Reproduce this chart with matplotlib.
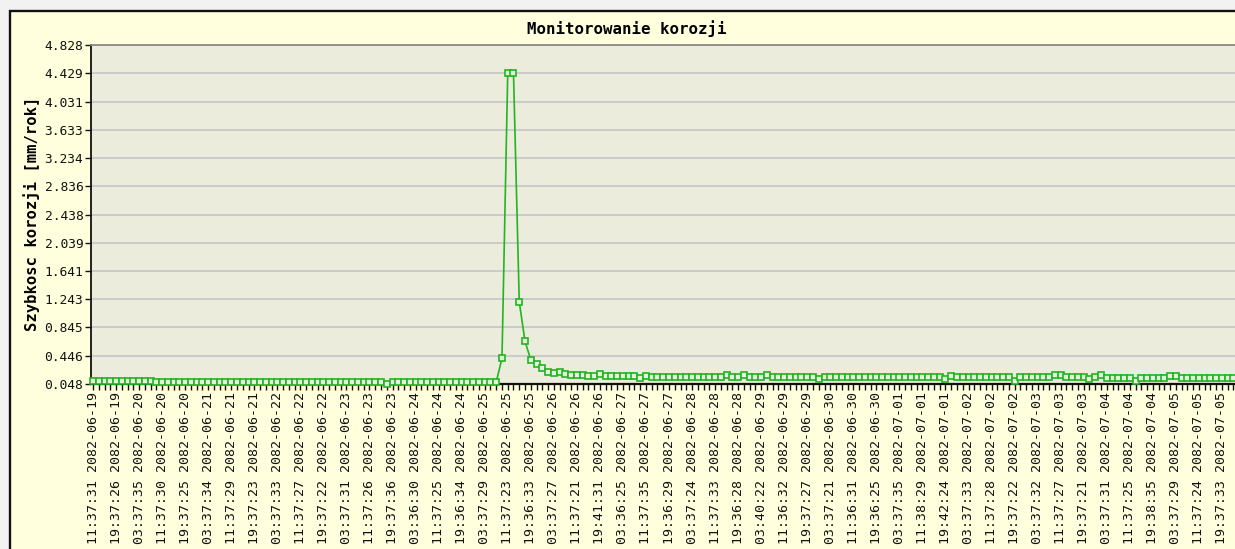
import numpy as np
import matplotlib
matplotlib.use('Agg')
import matplotlib.pyplot as plt
from matplotlib.patches import Rectangle

#---------------DATA----------------------------------------------------------------------

# corrosion rate [mm/rok], one reading every ~2 hours
rate = [0.095]*11 + [0.076]*40 + [0.048] + [0.076]*19 + \
       [0.41, 4.429, 4.429, 1.205, 0.65, 0.39, 0.33, 0.27, 0.22, 0.20,
        0.22, 0.19, 0.175, 0.175, 0.175, 0.16, 0.16, 0.19, 0.16] + \
       [0.16]*5 + [0.135, 0.165] + [0.145]*13 + [0.175] + [0.145]*2 + [0.175] + \
       [0.145]*3 + [0.175] + [0.145]*8 + [0.12] + [0.145]*21 + [0.12, 0.165] + \
       [0.145]*10 + [0.095] + [0.14]*6 + [0.18, 0.18] + [0.14]*4 + \
       [0.115, 0.15, 0.18] + [0.13]*5 + [0.095] + [0.13]*5 + [0.16, 0.16] + [0.13]*11

# labels every 4th reading
lab_dates = ['2082-06-19']*2 + \
            ['2082-06-20']*3 + ['2082-06-21']*3 + ['2082-06-22']*3 + ['2082-06-23']*3 + \
            ['2082-06-24']*3 + ['2082-06-25']*3 + ['2082-06-26']*3 + ['2082-06-27']*3 + \
            ['2082-06-28']*3 + ['2082-06-29']*3 + ['2082-06-30']*3 + ['2082-07-01']*3 + \
            ['2082-07-02']*3 + ['2082-07-03']*3 + ['2082-07-04']*3 + ['2082-07-05']*3
lab_times = ['11:37:31','19:37:26','03:37:35','11:37:30','19:37:25','03:37:34','11:37:29',
             '19:37:23','03:37:33','11:37:27','19:37:22','03:37:31','11:37:26','19:37:36',
             '03:36:30','11:37:25','19:36:34','03:37:29','11:37:23','19:36:33','03:37:27',
             '11:37:21','19:41:31','03:36:25','11:37:35','19:36:29','03:37:24','11:37:33',
             '19:36:28','03:40:22','11:36:32','19:37:27','03:37:21','11:36:31','19:36:25',
             '03:37:35','11:38:29','19:42:24','03:37:33','11:37:28','19:37:22','03:37:32',
             '11:37:27','19:37:21','03:37:31','11:37:25','19:38:35','03:37:29','11:37:24',
             '19:37:33']

ytick_labels = ['0.048','0.446','0.845','1.243','1.641','2.039','2.438',
                '2.836','3.234','3.633','4.031','4.429','4.828']

#---------------FIGURE----------------------------------------------------------------------

W, H = 1235, 549
mono = 'DejaVu Sans Mono'
green = '#22B422'

fig = plt.figure(figsize=(W/100, H/100), dpi=100)
fig.patch.set_facecolor('#F2F2F2')

# yellow panel with black frame (right/bottom edges fall outside the picture)
panel = Rectangle((9.5/W, -0.2), 1.5, 1.2 - 11/H, transform=fig.transFigure,
                  facecolor='#FFFFDD', edgecolor='#111111', lw=1.7, zorder=-10)
fig.add_artist(panel)

ppx = 5.76                       # pixels per reading
x0 = -0.35
x1 = 215
ax = fig.add_axes([91/W, (H-384)/H, (x1-x0)*ppx/W, 339/H])
ax.set_zorder(1)
ax.set_facecolor('#ECECDC')

x = np.arange(len(rate))
ax.plot(x, rate, color=green, lw=1.2, marker='s', ms=5, mfc='#E4F4DA',
        mec=green, mew=1.2, clip_on=False, zorder=3)

ax.set_xlim(x0, x1)
ax.set_ylim(0.048, 4.828)

ax.set_yticks([float(v) for v in ytick_labels])
ax.set_yticklabels(ytick_labels, fontfamily=mono, fontsize=9.3)
ax.yaxis.grid(True, color='#C8C8C8', lw=1.3)
ax.set_axisbelow(True)

ax.set_xticks(np.arange(0, 4*len(lab_times), 4))
ax.set_xticklabels(['{} {}'.format(t, d) for t, d in zip(lab_times, lab_dates)],
                   rotation=90, fontfamily=mono, fontsize=9.5, va='top', ha='center')
ax.set_xticks(np.arange(0, x1), minor=True)

ax.tick_params(axis='y', direction='out', length=4, width=1, pad=1.5, colors='#111111')
ax.tick_params(axis='x', which='both', direction='out', length=4, width=1, pad=2,
               colors='#111111')

ax.spines['left'].set_color('#111111')
ax.spines['left'].set_linewidth(1.3)
ax.spines['bottom'].set_color('#111111')
ax.spines['bottom'].set_linewidth(1.6)
ax.spines['top'].set_color('#888888')
ax.spines['top'].set_linewidth(1.3)
ax.spines['right'].set_visible(False)

fig.text(627/W, 1 - 29/H, 'Monitorowanie korozji', ha='center', va='center',
         fontfamily=mono, fontweight='bold', fontsize=11.3)
fig.text(32/W, 1 - 214/H, 'Szybkosc korozji [mm/rok]', ha='center', va='center',
         rotation=90, fontfamily=mono, fontweight='bold', fontsize=11.2)

fig.savefig('out.png', dpi=100)
